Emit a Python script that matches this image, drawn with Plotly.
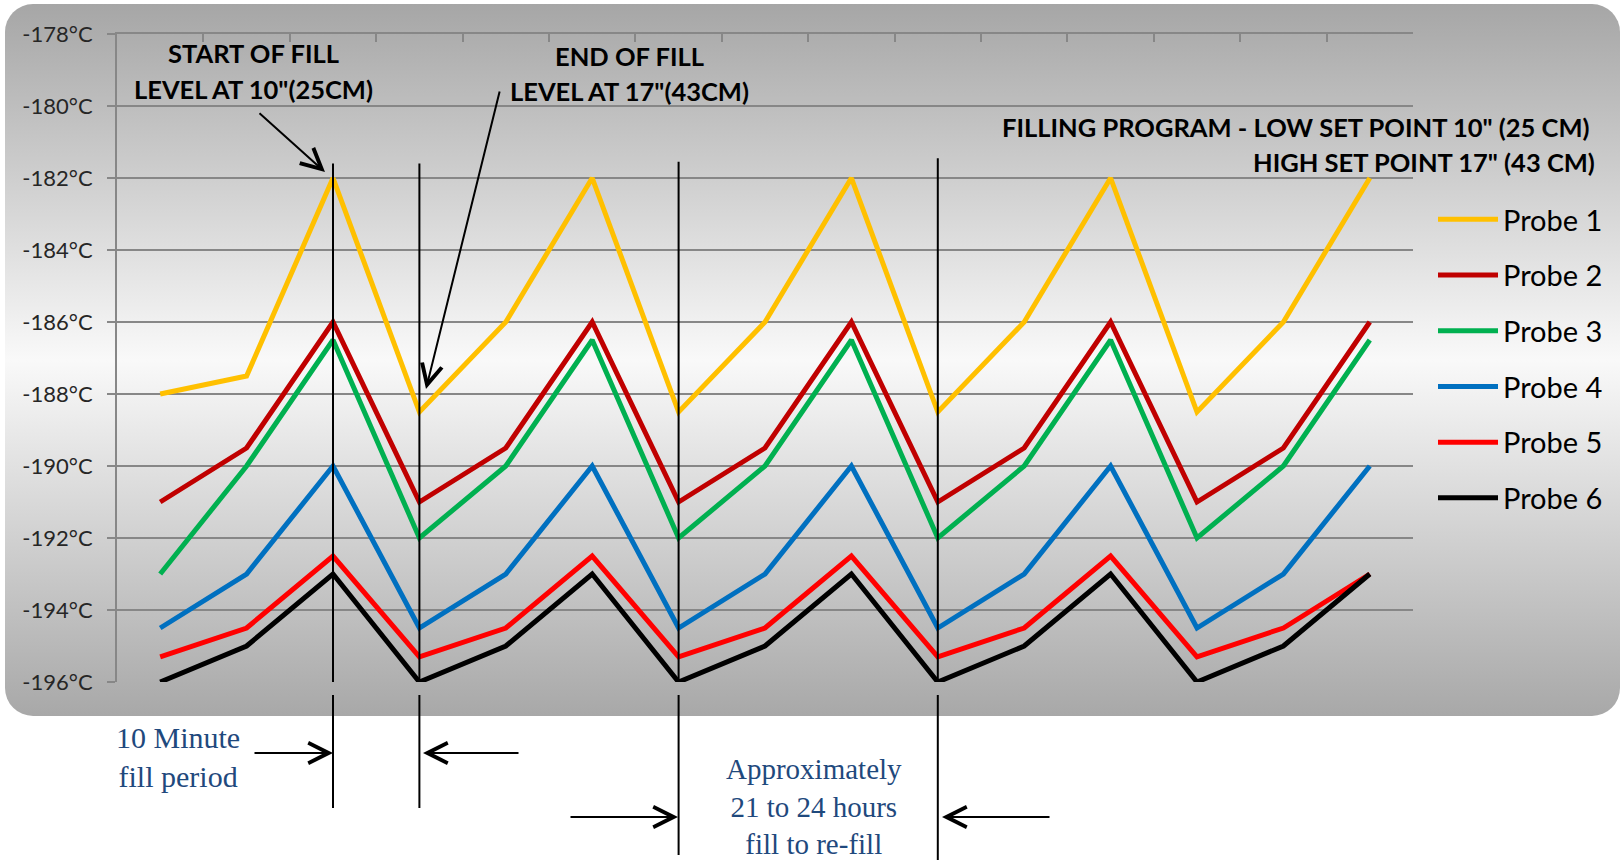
import base64
import plotly.graph_objects as go

# ---------------- data ----------------
time_points = list(range(15))
probe_names = ["Probe 1", "Probe 2", "Probe 3", "Probe 4", "Probe 5", "Probe 6"]
probe1 = [-188, -187.5, -182, -188.5, -186, -182, -188.5, -186, -182, -188.5, -186, -182, -188.5, -186, -182]
probe2 = [-191, -189.5, -186, -191, -189.5, -186, -191, -189.5, -186, -191, -189.5, -186, -191, -189.5, -186]
probe3 = [-193, -190, -186.5, -192, -190, -186.5, -192, -190, -186.5, -192, -190, -186.5, -192, -190, -186.5]
probe4 = [-194.5, -193, -190, -194.5, -193, -190, -194.5, -193, -190, -194.5, -193, -190, -194.5, -193, -190]
probe5 = [-195.3, -194.5, -192.5, -195.3, -194.5, -192.5, -195.3, -194.5, -192.5, -195.3, -194.5, -192.5, -195.3, -194.5, -193]
probe6 = [-196, -195, -193, -196, -195, -193, -196, -195, -193, -196, -195, -193, -196, -195, -193]
probe_colors = ["#FFC000", "#C00000", "#00B050", "#0070C0", "#FF0000", "#000000"]
y_ticks = [-178, -180, -182, -184, -186, -188, -190, -192, -194, -196]
y_ticktext = [f"{v}°C" for v in y_ticks]
fill_marker_idx = [2, 3, 6, 9]          # start of fill, end of fill, later fills
fill_marker_top = [-181.6, -181.6, -181.55, -181.45]

# ---------------- geometry helpers ----------------
W, H = 1623, 864
PL, PT, PW, PH = 117, 34, 1296, 648


def px(x):
    return (x - PL) / PW


def py(y):
    return (PT + PH - y) / PH


fig = go.Figure()
for name, vals, col in zip(probe_names, [probe1, probe2, probe3, probe4, probe5, probe6], probe_colors):
    fig.add_trace(go.Scatter(x=time_points, y=vals, mode="lines", name=name,
                             legendgroup=name,
                             line=dict(color=col, width=5)))

# background gradient (rounded panel)
svg = f'''<svg xmlns="http://www.w3.org/2000/svg" width="{W}" height="{H}" viewBox="0 0 {W} {H}">
<defs><linearGradient id="g" x1="0" y1="0" x2="0" y2="1">
<stop offset="0" stop-color="#a6a6a6"/><stop offset="0.5" stop-color="#f9f9f9"/><stop offset="1" stop-color="#a8a8a8"/>
</linearGradient></defs>
<rect x="5" y="4" width="1615" height="712" rx="28" ry="28" fill="url(#g)"/></svg>'''
src = "data:image/svg+xml;base64," + base64.b64encode(svg.encode()).decode()
fig.add_layout_image(dict(source=src, xref="paper", yref="paper", x=px(0), y=py(0),
                          sizex=W / PW, sizey=H / PH, xanchor="left", yanchor="top",
                          sizing="stretch", layer="below"))

# vertical fill markers
lower_end_px = [808, 808, 855, 860]
for idx, top, low in zip(fill_marker_idx, fill_marker_top, lower_end_px):
    fig.add_shape(type="line", xref="x", yref="y", x0=idx, x1=idx, y0=top, y1=y_ticks[-1],
                  line=dict(color="black", width=2))
    fig.add_shape(type="line", xref="x", yref="paper", x0=idx, x1=idx, y0=py(695), y1=py(low),
                  line=dict(color="black", width=2))

bold = dict(family="Lato", size=25.5, color="black", weight="bold")
blue = dict(family="Liberation Serif, Times New Roman, serif", size=30, color="#1F497D")
blue_small = dict(blue, size=29)
ann = []


def text(x, y, s, font, xanchor="center"):
    ann.append(dict(x=px(x), y=py(y), xref="paper", yref="paper", text=s, showarrow=False,
                    font=font, xanchor=xanchor, yanchor="middle", align="center"))


def arrow(hx, hy, tx, ty):
    ann.append(dict(x=px(hx), y=py(hy), xref="paper", yref="paper", text="", showarrow=True,
                    ax=tx - hx, ay=ty - hy, arrowhead=5, arrowsize=2, arrowwidth=2,
                    arrowcolor="black", standoff=0))


text(253, 53, "START OF FILL", bold)
text(253, 89, 'LEVEL AT 10"(25CM)', bold)
text(629, 56, "END OF FILL", bold)
text(629, 91, 'LEVEL AT 17"(43CM)', bold)
text(1592, 127, 'FILLING PROGRAM - LOW SET POINT 10" (25 CM)', bold, xanchor="right")
text(1597, 162, 'HIGH SET POINT 17" (43 CM)', bold, xanchor="right")
text(178, 757, "10 Minute<br>fill period", blue)
text(814, 806, "Approximately<br>21 to 24 hours<br>fill to re-fill", blue_small)

arrow(325, 172, 258, 112)
arrow(426, 389, 500, 90)
arrow(333, 753, 253, 753)
arrow(423, 753, 520, 753)
arrow(678, 817, 569, 817)
arrow(942, 817, 1051, 817)

grid = "#878787"
fig.update_layout(
    width=W, height=H,
    margin=dict(l=PL, r=W - PL - PW, t=PT, b=H - PT - PH, pad=0),
    paper_bgcolor="white", plot_bgcolor="rgba(0,0,0,0)",
    annotations=ann,
    showlegend=True,
    legend=dict(x=px(1433), y=py(194), xanchor="left", yanchor="top",
                bgcolor="rgba(0,0,0,0)", tracegroupgap=15, itemwidth=60,
                font=dict(family="Lato", size=29, color="black")),
    xaxis=dict(range=[-0.5, 14.5], side="top", showline=True, linecolor=grid, linewidth=2,
               ticks="inside", tick0=-0.5, dtick=1, ticklen=8, tickcolor=grid, tickwidth=2,
               showgrid=False, showticklabels=False, zeroline=False),
    yaxis=dict(range=[-196, -178], tickvals=y_ticks, ticktext=y_ticktext, showgrid=True,
               gridcolor=grid, gridwidth=2, showline=True, linecolor=grid, linewidth=2,
               ticks="outside", ticklen=8, tickcolor=grid, tickwidth=2, zeroline=False,
               ticklabelstandoff=10,
               tickfont=dict(family="Lato", size=22, color="#262626")),
)

fig.write_html("out.html", config={"displayModeBar": False},
               post_script="document.body.style.margin='0';document.body.style.overflow='hidden';")
